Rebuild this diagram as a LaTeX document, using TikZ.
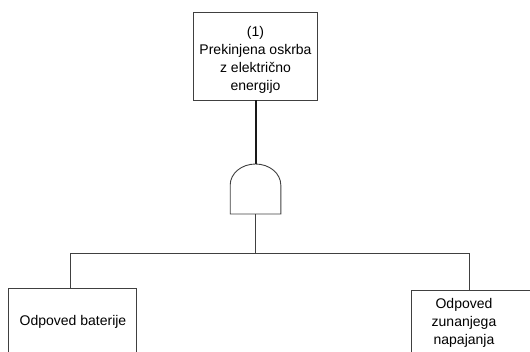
\documentclass[tikz,border=0pt]{standalone}
\usepackage{fontspec}
\setmainfont{Liberation Sans}
\begin{document}
\begin{tikzpicture}[x=1pt,y=-1pt,
  box/.style={draw=black!75,line width=0.9pt,rectangle,inner sep=0pt,fill=white},
  txt/.style={align=center,font=\fontsize{14}{18}\selectfont,inner sep=0pt},
  thin/.style={draw=black!75,line width=0.9pt},
  thick/.style={draw=black!90,line width=2pt}]
\useasboundingbox (0,0) rectangle (530,351);
\clip (0,0) rectangle (530,351);
\node[box,minimum width=124pt,minimum height=88pt] (top) at (255.5,56) {};
\node[txt] (toptxt) at (255.5,60) {(1)\\Prekinjena oskrba\\z električno\\energijo};
% gate
\coordinate (gt) at (255.5,164);
\coordinate (gb) at (255.5,214);
\draw[thin] (230.2,214) -- (230.2,185) arc[start angle=180,end angle=0,x radius=25.3,y radius=-21] -- (280.8,214) -- cycle;
\draw[thick] (top.south) -- (gt);
% boxes
\node[box,minimum width=127.5pt,minimum height=70pt] (lb) at (72.25,323) {};
\node[txt] (lbt) at (73,322) {Odpoved baterije};
\node[box,minimum width=134pt,minimum height=70pt] (rb) at (478,325) {};
\node[txt] (rbt) at (464,323) {Odpoved\\zunanjega\\napajanja};
% connectors
\coordinate (bus) at (255.5,253);
\coordinate (lj) at (70,253);
\coordinate (rj) at (469,253);
\draw[thin] (gb) -- (bus);
\draw[thin] (lj) -- (rj);
\draw[thin] (lj) -- (lj |- lb.north);
\draw[thin] (rj) -- (rj |- rb.north);
\end{tikzpicture}
\end{document}
